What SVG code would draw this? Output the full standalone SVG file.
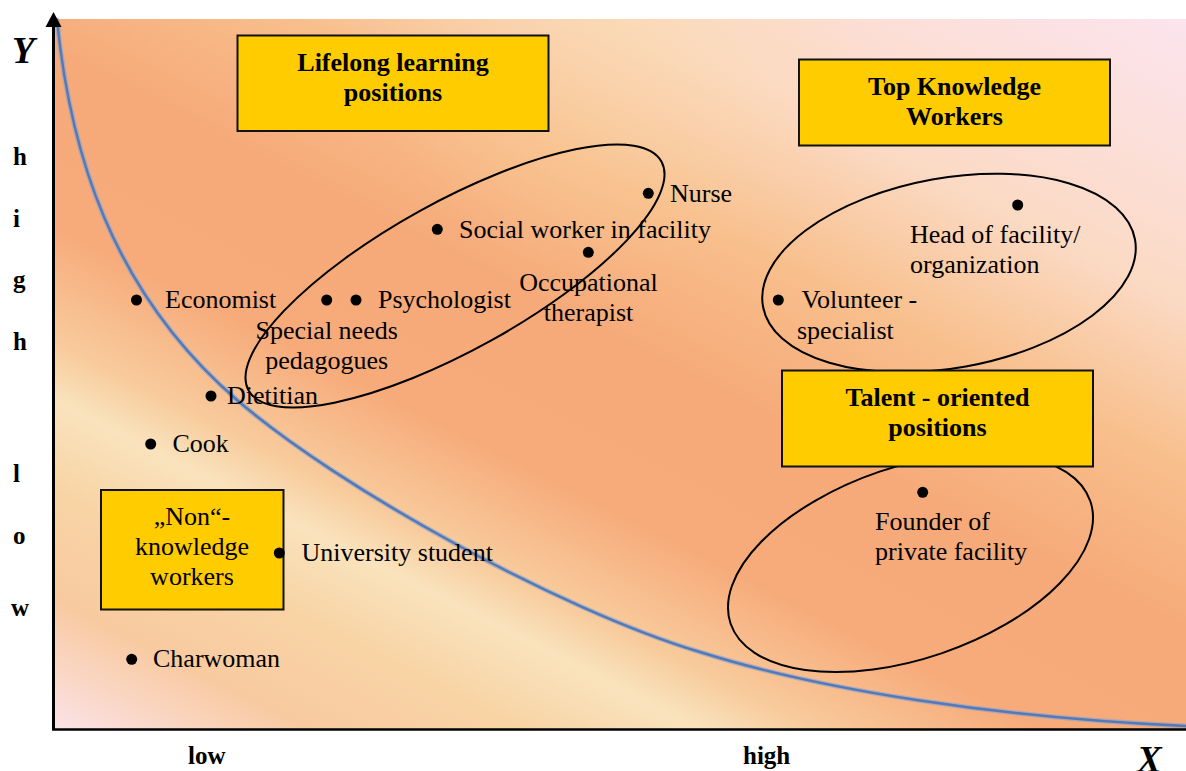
<svg xmlns="http://www.w3.org/2000/svg" width="1186" height="771" viewBox="0 0 1186 771">
  <defs>
    <!-- diagonal wash: pink top-right, orange middle, cream band, pink bottom-left corner -->
    <linearGradient id="plotBg" gradientUnits="userSpaceOnUse" x1="836" y1="-158" x2="317" y2="861">
      <stop offset="0" stop-color="#fce4ee"/>
      <stop offset="0.22" stop-color="#fbdac4"/>
      <stop offset="0.35" stop-color="#f8bf8c"/>
      <stop offset="0.48" stop-color="#f6a979"/>
      <stop offset="0.61" stop-color="#f7ab7b"/>
      <stop offset="0.70" stop-color="#f8cb9c"/>
      <stop offset="0.745" stop-color="#f9e3bd"/>
      <stop offset="0.815" stop-color="#f8d4a5"/>
      <stop offset="0.90" stop-color="#f8caa0"/>
      <stop offset="1" stop-color="#fbe2e6"/>
    </linearGradient>
    <radialGradient id="topGlow" gradientUnits="userSpaceOnUse" cx="620" cy="20" r="260">
      <stop offset="0" stop-color="#fad9a8" stop-opacity="0.45"/>
      <stop offset="1" stop-color="#fad9a8" stop-opacity="0"/>
    </radialGradient>
    <style>
      .box { fill: #ffcc00; stroke: #111; stroke-width: 2; }
      .title { font-family: "Liberation Serif", "Times New Roman", serif; font-size: 26px; font-weight: bold; fill: #000; text-anchor: middle; }
      .label { font-family: "Liberation Serif", "Times New Roman", serif; font-size: 26px; fill: #000; }
      .mid { text-anchor: middle; }
      .dot { fill: #000; }
      .cluster { fill: none; stroke: #000; stroke-width: 2; }
      .axisText { font-family: "Liberation Serif", "Times New Roman", serif; font-size: 25px; font-weight: bold; fill: #000; }
      .axisName { font-family: "Liberation Serif", "Times New Roman", serif; font-size: 37px; font-weight: bold; font-style: italic; fill: #000; }
    </style>
  </defs>

  <rect x="0" y="0" width="1186" height="771" fill="#ffffff"/>

  <!-- plot area -->
  <rect x="55" y="19" width="1131" height="710" fill="url(#plotBg)"/>
  <rect x="55" y="19" width="1131" height="710" fill="url(#topGlow)"/>

  <!-- indifference curve -->
  <path d="M57,20 C70,150 110,290 237,400 C339,488 560,610 700,652 C820,690 1000,718 1186,726" fill="none" stroke="#86a2cf" stroke-width="5" stroke-linecap="round" opacity="0.6"/>
  <path d="M57,20 C70,150 110,290 237,400 C339,488 560,610 700,652 C820,690 1000,718 1186,726" fill="none" stroke="#5479b8" stroke-width="2.5" stroke-linecap="round"/>

  <!-- axes -->
  <g id="axes">
    <line x1="53.5" y1="730" x2="53.5" y2="24" stroke="#000" stroke-width="3"/>
    <polygon points="53.5,12 61.5,27 45.5,27" fill="#000"/>
    <line x1="52" y1="729.5" x2="1186" y2="729.5" stroke="#000" stroke-width="2.5"/>
  </g>

  <g id="axis-labels">
    <text class="axisName" x="12" y="63">Y</text>
    <text class="axisName" x="1137" y="772">X</text>
    <text class="axisText" x="13" y="165">h</text>
    <text class="axisText" x="13" y="227">i</text>
    <text class="axisText" x="13" y="288">g</text>
    <text class="axisText" x="13" y="350">h</text>
    <text class="axisText" x="13" y="482">l</text>
    <text class="axisText" x="13" y="544">o</text>
    <text class="axisText" x="11" y="616">w</text>
    <text class="axisText" x="188" y="764">low</text>
    <text class="axisText" x="743" y="764">high</text>
  </g>

  <!-- cluster outlines -->
  <g id="clusters">
    <ellipse class="cluster" cx="455" cy="276" rx="236" ry="74" transform="rotate(-29 455 276)"/>
    <ellipse class="cluster" cx="949" cy="273" rx="189" ry="95" transform="rotate(-10.2 949 273)"/>
    <ellipse class="cluster" cx="910.5" cy="562.5" rx="190" ry="96" transform="rotate(-18.8 910.5 562.5)"/>
  </g>

  <!-- category boxes -->
  <g id="box-lifelong">
    <rect class="box" x="237.5" y="35.5" width="311" height="95.5"/>
    <text class="title" x="393" y="71">Lifelong learning</text>
    <text class="title" x="393" y="101">positions</text>
  </g>
  <g id="box-top-knowledge">
    <rect class="box" x="799" y="59.5" width="311" height="86"/>
    <text class="title" x="954.5" y="95">Top Knowledge</text>
    <text class="title" x="954.5" y="125">Workers</text>
  </g>
  <g id="box-talent">
    <rect class="box" x="782" y="370.5" width="311" height="96"/>
    <text class="title" x="937.5" y="406">Talent - oriented</text>
    <text class="title" x="937.5" y="436">positions</text>
  </g>
  <g id="box-non-knowledge">
    <rect class="box" x="101" y="490" width="182.5" height="119.5"/>
    <text class="label mid" x="192" y="525">„Non“-</text>
    <text class="label mid" x="192" y="555">knowledge</text>
    <text class="label mid" x="192" y="585">workers</text>
  </g>

  <!-- positions -->
  <g id="nurse">
    <circle class="dot" cx="648.3" cy="193.3" r="5.5"/>
    <text class="label" x="670" y="202">Nurse</text>
  </g>
  <g id="social-worker">
    <circle class="dot" cx="437.3" cy="229.3" r="5.5"/>
    <text class="label" x="459" y="238">Social worker in facility</text>
  </g>
  <g id="occupational-therapist">
    <circle class="dot" cx="588.3" cy="252.3" r="5.5"/>
    <text class="label mid" x="588.5" y="291">Occupational</text>
    <text class="label mid" x="588.5" y="321">therapist</text>
  </g>
  <g id="special-needs-pedagogues">
    <circle class="dot" cx="326.7" cy="300" r="5.5"/>
    <text class="label mid" x="326.7" y="339">Special needs</text>
    <text class="label mid" x="326.7" y="369">pedagogues</text>
  </g>
  <g id="psychologist">
    <circle class="dot" cx="356" cy="300" r="5.5"/>
    <text class="label" x="378" y="308">Psychologist</text>
  </g>
  <g id="economist">
    <circle class="dot" cx="136.5" cy="300" r="5.5"/>
    <text class="label" x="165" y="308">Economist</text>
  </g>
  <g id="dietitian">
    <circle class="dot" cx="211" cy="396" r="5.5"/>
    <text class="label" x="227" y="404">Dietitian</text>
  </g>
  <g id="cook">
    <circle class="dot" cx="150.7" cy="444" r="5.5"/>
    <text class="label" x="172.5" y="452">Cook</text>
  </g>
  <g id="university-student">
    <circle class="dot" cx="279.3" cy="553" r="5.5"/>
    <text class="label" x="301.5" y="561">University student</text>
  </g>
  <g id="charwoman">
    <circle class="dot" cx="131.7" cy="659.3" r="5.5"/>
    <text class="label" x="153" y="667">Charwoman</text>
  </g>
  <g id="head-of-facility">
    <circle class="dot" cx="1017.7" cy="205" r="5.5"/>
    <text class="label" x="910" y="243">Head of facility/</text>
    <text class="label" x="910" y="273">organization</text>
  </g>
  <g id="volunteer-specialist">
    <circle class="dot" cx="778.3" cy="300" r="5.5"/>
    <text class="label" x="801.5" y="308">Volunteer -</text>
    <text class="label" x="797" y="338.5">specialist</text>
  </g>
  <g id="founder">
    <circle class="dot" cx="922.7" cy="492.3" r="5.5"/>
    <text class="label" x="875" y="530">Founder of</text>
    <text class="label" x="875" y="560">private facility</text>
  </g>
</svg>
